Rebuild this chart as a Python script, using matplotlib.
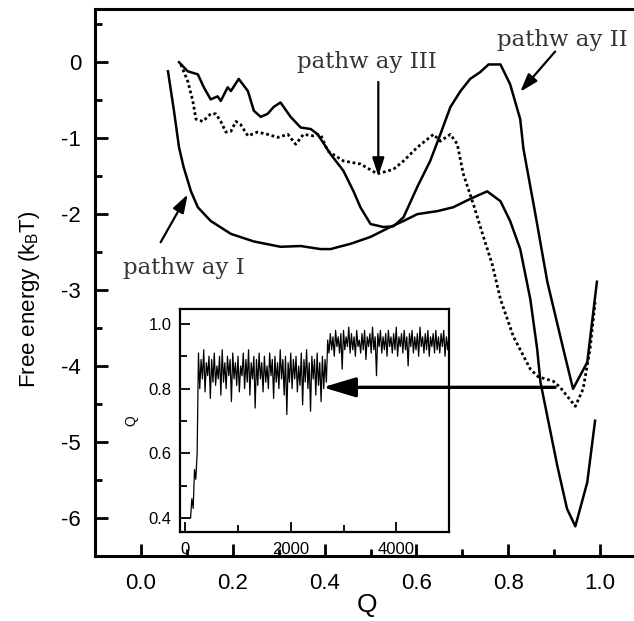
import numpy as np
import matplotlib
matplotlib.use('Agg')
import matplotlib.pyplot as plt
from matplotlib.ticker import MultipleLocator

plt.rcParams['font.family'] = ['Liberation Sans', 'DejaVu Sans']
plt.rcParams['mathtext.default'] = 'regular'

# ==================== data ====================
# pathway I (solid, deep minimum)
q_path1 = [0.059, 0.072, 0.083, 0.093, 0.109, 0.124, 0.152, 0.196, 0.246, 0.304,
           0.348, 0.391, 0.413, 0.457, 0.500, 0.543, 0.572, 0.602, 0.646, 0.680,
           0.717, 0.754, 0.783, 0.804, 0.826, 0.848, 0.863, 0.870, 0.885, 0.907,
           0.928, 0.946, 0.972, 0.989]
e_path1 = [-0.12, -0.64, -1.12, -1.38, -1.70, -1.91, -2.09, -2.26, -2.36, -2.43,
           -2.42, -2.46, -2.46, -2.39, -2.30, -2.17, -2.09, -2.00, -1.96, -1.91,
           -1.80, -1.70, -1.83, -2.09, -2.46, -3.12, -3.78, -4.21, -4.66, -5.32,
           -5.88, -6.11, -5.53, -4.72]

# pathway II (solid, high barrier)
q_path2 = [0.083, 0.102, 0.124, 0.137, 0.152, 0.167, 0.174, 0.189, 0.196, 0.213,
           0.233, 0.246, 0.261, 0.276, 0.289, 0.304, 0.326, 0.348, 0.370, 0.385,
           0.413, 0.441, 0.463, 0.478, 0.500, 0.528, 0.550, 0.572, 0.602, 0.630,
           0.652, 0.674, 0.696, 0.717, 0.739, 0.757, 0.783, 0.804, 0.826, 0.833,
           0.859, 0.885, 0.920, 0.941, 0.972, 0.993]
e_path2 = [0.00, -0.12, -0.16, -0.33, -0.49, -0.45, -0.51, -0.33, -0.38, -0.22,
           -0.38, -0.64, -0.72, -0.68, -0.59, -0.53, -0.72, -0.86, -0.88, -0.95,
           -1.21, -1.43, -1.70, -1.91, -2.13, -2.17, -2.16, -2.04, -1.64, -1.30,
           -0.95, -0.59, -0.38, -0.22, -0.13, -0.03, -0.03, -0.29, -0.75, -1.14,
           -2.00, -2.89, -3.78, -4.30, -3.95, -2.89]

# pathway III (dotted)
q_path3 = [0.087, 0.102, 0.113, 0.120, 0.135, 0.152, 0.163, 0.174, 0.185, 0.196,
           0.207, 0.217, 0.233, 0.254, 0.276, 0.298, 0.320, 0.337, 0.354, 0.376,
           0.391, 0.407, 0.441, 0.478, 0.515, 0.550, 0.572, 0.602, 0.637, 0.652,
           0.674, 0.689, 0.702, 0.724, 0.746, 0.765, 0.783, 0.811, 0.848, 0.865,
           0.898, 0.913, 0.946, 0.963, 0.978, 0.989]
e_path3 = [-0.03, -0.25, -0.51, -0.75, -0.78, -0.68, -0.68, -0.78, -0.92, -0.91,
           -0.78, -0.82, -0.97, -0.92, -0.95, -0.99, -0.95, -1.08, -0.95, -0.97,
           -0.95, -1.17, -1.30, -1.34, -1.47, -1.41, -1.30, -1.12, -0.95, -1.04,
           -0.95, -1.08, -1.47, -1.87, -2.30, -2.66, -3.12, -3.61, -4.04, -4.14,
           -4.20, -4.28, -4.53, -4.30, -3.78, -3.16]

# inset: Q along one trajectory, one value every 25 steps from step 100
q_start = [0.40, 0.46, 0.43, 0.55, 0.52, 0.60]
q_first = [0.91, 0.80, 0.89, 0.83, 0.92, 0.79, 0.88, 0.84, 0.90, 0.77, 0.89, 0.82, 0.91, 0.81,
           0.87, 0.83, 0.90, 0.78, 0.92, 0.82, 0.88, 0.80, 0.90, 0.84, 0.89, 0.76, 0.91, 0.83,
           0.88, 0.81, 0.90, 0.79, 0.87, 0.84, 0.91, 0.80, 0.89, 0.82, 0.92, 0.78, 0.88, 0.83,
           0.90, 0.74, 0.89, 0.81, 0.91, 0.83, 0.88, 0.79, 0.90, 0.82, 0.87, 0.80, 0.91, 0.84,
           0.89, 0.77, 0.90, 0.82, 0.88, 0.80, 0.92, 0.83, 0.89, 0.78, 0.90, 0.72, 0.88, 0.82,
           0.91, 0.80, 0.89, 0.83, 0.90, 0.79, 0.87, 0.81, 0.91, 0.75, 0.89, 0.82, 0.92, 0.80,
           0.88, 0.73, 0.90, 0.83, 0.89, 0.78, 0.91, 0.81, 0.88, 0.76, 0.90, 0.80, 0.89, 0.82]
q_second = [0.95, 0.91, 0.97, 0.92, 0.96, 0.90, 0.98, 0.93, 0.96, 0.91, 0.97, 0.86, 0.98, 0.92,
            0.96, 0.93, 0.99, 0.91, 0.97, 0.92, 0.96, 0.90, 0.98, 0.93, 0.95, 0.91, 0.97, 0.92,
            0.98, 0.89, 0.96, 0.93, 0.97, 0.91, 0.99, 0.92, 0.96, 0.84, 0.97, 0.93, 0.98, 0.91,
            0.96, 0.92, 0.97, 0.90, 0.98, 0.93, 0.96, 0.91, 0.97, 0.92, 0.99, 0.90, 0.96, 0.93,
            0.97, 0.91, 0.98, 0.92, 0.96, 0.87, 0.97, 0.93, 0.98, 0.91, 0.96, 0.92, 0.97, 0.90,
            0.99, 0.93, 0.96, 0.91, 0.97, 0.92, 0.98, 0.90, 0.96, 0.93, 0.97, 0.91, 0.98, 0.92,
            0.96, 0.91, 0.97, 0.93, 0.98, 0.90, 0.96, 0.92, 0.97]
trace_q = q_start + q_first + q_second
trace_t = 100 + 25 * np.arange(len(trace_q))

# ==================== main plot ====================
fig = plt.figure(figsize=(6.34, 6.21), dpi=100)
ax = fig.add_axes([0.1498, 0.1047, 0.8692, 0.8808])

ax.plot(q_path1, e_path1, color='black', lw=1.8)
ax.plot(q_path2, e_path2, color='black', lw=1.8)
ax.plot(q_path3, e_path3, color='black', lw=2.0, linestyle=(0, (1, 1)))

ax.set_xlim(-0.1, 1.1)
ax.set_ylim(-6.5, 0.7)
ax.xaxis.set_major_locator(MultipleLocator(0.2))
ax.xaxis.set_minor_locator(MultipleLocator(0.1))
ax.yaxis.set_major_locator(MultipleLocator(1))
ax.yaxis.set_minor_locator(MultipleLocator(0.5))
ax.xaxis.set_major_formatter(plt.FuncFormatter(lambda v, p: f'{v:.1f}'))
ax.yaxis.set_major_formatter(plt.FuncFormatter(lambda v, p: f'{v:.0f}'))
ax.tick_params(which='both', direction='in', width=2, labelsize=16)
ax.tick_params(which='major', length=9)
ax.tick_params(which='minor', length=5)
ax.tick_params(axis='x', pad=12)
ax.tick_params(axis='y', pad=10)
for s in ax.spines.values():
    s.set_linewidth(2.2)

ax.set_xlabel('Q', fontsize=19)
ax.set_ylabel('Free energy (k$_B$T)', fontsize=16)
ax.xaxis.set_label_coords(0.494, -0.067)
ax.yaxis.set_label_coords(-0.096, 0.47)

# pathway labels
lab_font = dict(family='DejaVu Serif', fontsize=16.5, color='0.2')
small_arrow = dict(arrowstyle='-|>,head_length=0.55,head_width=0.18',
                   color='black', lw=1.6, mutation_scale=20, shrinkA=0, shrinkB=0)
ax.annotate('', xy=(0.102, -1.74), xytext=(0.043, -2.37), arrowprops=small_arrow)
ax.text(-0.039, -2.79, 'pathw ay I', **lab_font)
ax.annotate('', xy=(0.517, -1.50), xytext=(0.517, -0.26), arrowprops=small_arrow)
ax.text(0.341, -0.07, 'pathw ay III', **lab_font)
ax.annotate('', xy=(0.826, -0.39), xytext=(0.902, 0.14), arrowprops=small_arrow)
ax.text(0.776, 0.21, 'pathw ay II', **lab_font)

# ==================== inset ====================
ins = fig.add_axes([0.2839, 0.1433, 0.4243, 0.3591])
ins.plot(trace_t, trace_q, color='black', lw=0.9)
ins.set_xlim(-100, 5000)
ins.set_ylim(0.357, 1.046)
ins.xaxis.set_major_locator(MultipleLocator(2000))
ins.xaxis.set_minor_locator(MultipleLocator(1000))
ins.yaxis.set_major_locator(MultipleLocator(0.2))
ins.yaxis.set_minor_locator(MultipleLocator(0.1))
ins.yaxis.set_major_formatter(plt.FuncFormatter(lambda v, p: f'{v:.1f}'))
ins.tick_params(which='both', direction='in', width=1.3, labelsize=12)
ins.tick_params(which='major', length=7)
ins.tick_params(which='minor', length=5)
ins.tick_params(axis='x', pad=7)
ins.tick_params(axis='y', pad=6)
for s in ins.spines.values():
    s.set_linewidth(1.6)
ins.set_ylabel('Q', fontsize=10)
ins.yaxis.set_label_coords(-0.156, 0.5)

# big arrow from the intermediate basin to the inset
ins.annotate('', xy=(0.396, -4.28), xycoords=ax.transData,
             xytext=(0.902, -4.28), textcoords=ax.transData,
             arrowprops=dict(arrowstyle='-|>,head_length=1.0,head_width=0.3',
                             color='black', lw=2.4, mutation_scale=20,
                             shrinkA=0, shrinkB=0),
             annotation_clip=False)

fig.savefig('out.png', dpi=100)
